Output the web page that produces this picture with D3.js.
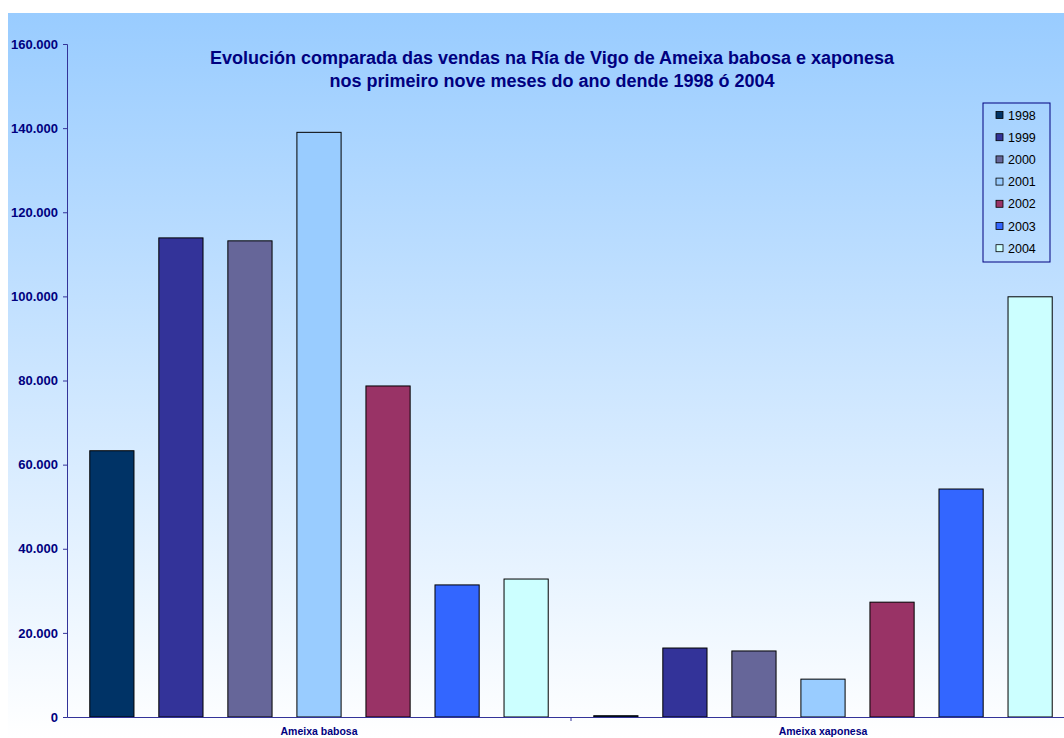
<!DOCTYPE html>
<html>
<head>
<meta charset="utf-8">
<script src="https://cdn.jsdelivr.net/npm/d3@7"></script>
<style>
  body{margin:0;background:#fff;}
  svg{display:block;font-family:"Liberation Sans",Arial,sans-serif;}
</style>
</head>
<body>
<div id="chart"></div>
<script>
// datos
var categories=["Ameixa babosa","Ameixa xaponesa"];
var years=["1998","1999","2000","2001","2002","2003","2004"];
var babosa=[63300,113900,113200,139000,78700,31400,32800];
var xaponesa=[300,16400,15700,9000,27300,54200,99900];
var yTicks=[0,20000,40000,60000,80000,100000,120000,140000,160000];
var colors=["#003366","#333399","#666699","#99CCFF","#993366","#3366FF","#CCFFFF"];
var titleLines=["Evolución comparada das vendas na Ría de Vigo de Ameixa babosa e xaponesa",
                "nos primeiro nove meses do ano dende 1998 ó 2004"];

var width=1064,height=738;
var margin={top:44,left:67,bottom:21};
var navy="#000080",axisColor="#333399";

var svg=d3.select("#chart").append("svg")
  .attr("width",width).attr("height",height);

var defs=svg.append("defs");
var grad=defs.append("linearGradient").attr("id","bg")
  .attr("x1",0).attr("y1",0).attr("x2",0).attr("y2",1);
grad.append("stop").attr("offset","0%").attr("stop-color","#99CCFF");
grad.append("stop").attr("offset","100%").attr("stop-color","#FFFFFF");

svg.append("rect").attr("x",8).attr("y",13)
  .attr("width",width-8).attr("height",height-13)
  .attr("fill","url(#bg)");

var values=[babosa,xaponesa];

var x0=d3.scaleBand().domain(categories).range([margin.left,1075]).padding(0);
var x1=d3.scaleBand().domain(years).range([0,x0.bandwidth()])
  .paddingInner(0.36).paddingOuter(0.33);
var y=d3.scaleLinear().domain([0,160000]).range([height-margin.bottom,margin.top]);

var fmt=function(d){return d===0?"0":d3.format(",.0f")(d).replace(/,/g,".");};

// eixo Y
var yAxis=svg.append("g").attr("transform","translate("+margin.left+",0)")
  .call(d3.axisLeft(y).tickValues(yTicks).tickFormat(fmt).tickSize(4).tickPadding(5));
yAxis.select(".domain").attr("stroke",axisColor);
yAxis.selectAll(".tick line").attr("stroke",axisColor);
yAxis.selectAll(".tick text").attr("fill",navy).attr("font-size","13px")
  .attr("font-weight","bold").attr("font-family","Liberation Sans, Arial, sans-serif");

// barras
var groups=svg.append("g").selectAll("g").data(categories).enter().append("g")
  .attr("transform",function(d){return "translate("+x0(d)+",0)";});
groups.each(function(cat,ci){
  d3.select(this).selectAll("rect").data(values[ci]).enter().append("rect")
    .attr("x",function(d,i){return x1(years[i]);})
    .attr("width",x1.bandwidth())
    .attr("y",function(d){return y(d);})
    .attr("height",function(d){return y(0)-y(d);})
    .attr("fill",function(d,i){return colors[i];})
    .attr("stroke","#000").attr("stroke-width",1);
});

// eixo X
var xAxis=svg.append("g").attr("transform","translate(0,"+y(0)+")")
  .call(d3.axisBottom(x0).tickSize(0).tickPadding(11).tickSizeOuter(0));
xAxis.select(".domain").attr("stroke",axisColor);
xAxis.selectAll(".tick text").attr("fill",navy).attr("font-size","10.5px")
  .attr("font-weight","bold").attr("font-family","Liberation Sans, Arial, sans-serif");
svg.append("g").selectAll("line").data(categories.slice(1)).enter().append("line")
  .attr("x1",function(d){return x0(d);}).attr("x2",function(d){return x0(d);})
  .attr("y1",y(0)).attr("y2",y(0)+4).attr("stroke",axisColor);

// título
svg.append("text").attr("x",552).attr("y",64).attr("text-anchor","middle")
  .attr("fill",navy).attr("font-size","18px").attr("font-weight","bold")
  .selectAll("tspan").data(titleLines).enter().append("tspan")
  .attr("x",552).attr("dy",function(d,i){return i?23:0;}).text(function(d){return d;});

// lenda
var legend=svg.append("g").attr("transform","translate(983,103)");
legend.append("rect").attr("width",67).attr("height",159)
  .attr("fill","none").attr("stroke",navy).attr("stroke-width",1);
var items=legend.selectAll("g").data(years).enter().append("g")
  .attr("transform",function(d,i){return "translate(13,"+(12+i*22.2)+")";});
items.append("rect").attr("x",0).attr("y",-3.5).attr("width",7).attr("height",7)
  .attr("fill",function(d,i){return colors[i];}).attr("stroke","#000").attr("stroke-width",0.8);
items.append("text").attr("x",12).attr("y",4.5).attr("font-size","12.5px").attr("fill","#000")
  .text(function(d){return d;});
</script>
</body>
</html>
